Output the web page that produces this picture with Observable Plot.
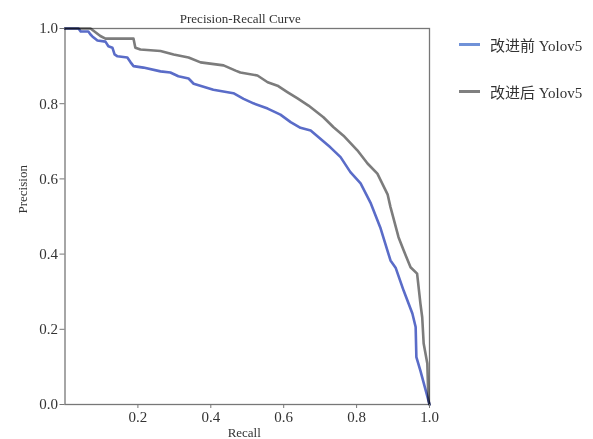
<!DOCTYPE html>
<html><head><meta charset="utf-8">
<script src="https://cdn.jsdelivr.net/npm/d3@7"></script>
<script src="https://cdn.jsdelivr.net/npm/@observablehq/plot@0.6"></script>
<style>
body{margin:0;background:#fff;}
#wrap{position:relative;width:593px;height:439px;background:#fff;}
.legend{position:absolute;left:459px;height:20px;font-family:"Liberation Serif","Noto Sans CJK SC",serif;font-size:15px;color:#333;display:flex;align-items:center;white-space:nowrap;}
.legend .sw{display:inline-block;width:21px;height:3px;margin-right:10px;}
</style></head><body><div id="wrap"></div>
<script>
const titleText = "Precision-Recall Curve";
const xLabel = "Recall";
const yLabel = "Precision";
const xTicks = [0.2, 0.4, 0.6, 0.8, 1.0];
const yTicks = [0.0, 0.2, 0.4, 0.6, 0.8, 1.0];
const seriesNames = ["改进前 Yolov5", "改进后 Yolov5"];
const seriesColors = ["#5a6cc8", "#7c7c7c"];
const legendColors = ["#7092d8", "#808080"];

const recallBefore = [0,0.037,0.043,0.064,0.07,0.075,0.089,0.111,0.119,0.13,0.136,0.144,0.171,0.18,0.188,0.215,0.262,0.289,0.311,0.339,0.353,0.407,0.462,0.49,0.517,0.556,0.591,0.619,0.646,0.674,0.728,0.756,0.783,0.811,0.838,0.866,0.893,0.907,0.929,0.953,0.962,0.964,0.975,0.997,1.0];
const precisionBefore = [1.0,1.0,0.992,0.992,0.984,0.979,0.968,0.965,0.953,0.949,0.931,0.926,0.923,0.91,0.90,0.896,0.886,0.883,0.873,0.867,0.853,0.837,0.828,0.813,0.801,0.787,0.771,0.751,0.736,0.729,0.684,0.658,0.618,0.588,0.537,0.468,0.383,0.364,0.303,0.242,0.206,0.126,0.09,0.011,0.0];

const recallAfter = [0,0.07,0.097,0.111,0.188,0.193,0.207,0.262,0.298,0.339,0.372,0.435,0.468,0.481,0.528,0.556,0.583,0.61,0.638,0.668,0.709,0.736,0.764,0.802,0.83,0.857,0.885,0.893,0.915,0.929,0.948,0.966,0.975,0.98,0.984,0.994,0.997,1.0];
const precisionAfter = [1.0,1.0,0.98,0.973,0.973,0.949,0.944,0.94,0.931,0.923,0.91,0.902,0.888,0.883,0.875,0.857,0.848,0.831,0.814,0.795,0.764,0.738,0.715,0.676,0.641,0.614,0.559,0.525,0.445,0.41,0.365,0.348,0.269,0.232,0.162,0.109,0.011,0.0];

const before = recallBefore.map((r, i) => ({recall: r, precision: precisionBefore[i]}));
const after = recallAfter.map((r, i) => ({recall: r, precision: precisionAfter[i]}));

const plot = Plot.plot({
  width: 593, height: 439,
  marginLeft: 64.5, marginRight: 164, marginTop: 28, marginBottom: 35,
  x: {domain: [0, 1]},
  y: {domain: [0, 1]},
  style: {fontFamily: "'Liberation Serif', serif", fontSize: "15px", color: "#333", background: "white"},
  marks: [
    Plot.frame({stroke: "#777", strokeWidth: 1.3}),
    Plot.line(after, {x: "recall", y: "precision", stroke: seriesColors[1], strokeWidth: 2.6, mixBlendMode: "multiply"}),
    Plot.line(before, {x: "recall", y: "precision", stroke: seriesColors[0], strokeWidth: 2.6, mixBlendMode: "multiply"}),
    Plot.axisX(xTicks, {tickSize: 4, tickPadding: 3, tickFormat: d => d.toFixed(1), label: null, stroke: "#777"}),
    Plot.axisY(yTicks, {tickSize: 5, tickPadding: 2, tickFormat: d => d.toFixed(1), label: null, stroke: "#777"}),
    Plot.text([titleText], {frameAnchor: "top", lineAnchor: "bottom", dy: -6, dx: -7, fontSize: 13}),
    Plot.text([xLabel], {frameAnchor: "bottom", lineAnchor: "bottom", dy: 32, dx: -3, fontSize: 13}),
    Plot.text([yLabel], {frameAnchor: "left", dx: -42, dy: -3, rotate: -90, fontSize: 13})
  ]
});
const wrap = document.getElementById("wrap");
wrap.appendChild(plot);
const legendTops = [34, 81];
seriesNames.forEach((name, i) => {
  const d = document.createElement("div");
  d.className = "legend";
  d.style.top = legendTops[i] + "px";
  d.innerHTML = `<span class="sw" style="background:${legendColors[i]}"></span><span>${name}</span>`;
  wrap.appendChild(d);
});
</script>
</body></html>
